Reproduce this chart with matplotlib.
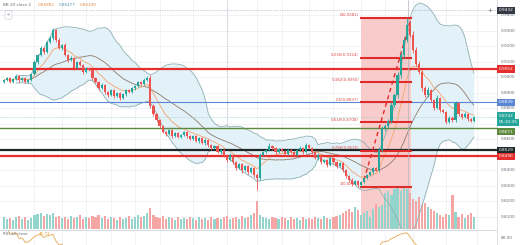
import numpy as np
import pandas as pd
import matplotlib.pyplot as plt
import matplotlib.transforms as mtransforms
from matplotlib.patches import Rectangle

# daily closes
closes = [
    0.8981, 0.8994, 0.8968, 0.8987, 0.9007, 0.8981, 0.8994, 0.8968, 0.8981, 0.9019,
    0.9097, 0.9142, 0.9187, 0.9161, 0.9226, 0.9252, 0.9303, 0.9239, 0.9187, 0.9207,
    0.9142, 0.9110, 0.9123, 0.9058, 0.9097, 0.9078, 0.9032, 0.9058, 0.9045, 0.8994,
    0.8968, 0.8929, 0.8949, 0.8903, 0.8884, 0.8916, 0.8878, 0.8897, 0.8865, 0.8890,
    0.8916, 0.8903, 0.8929, 0.8942, 0.8968, 0.8955, 0.8981, 0.8994, 0.8813, 0.8761,
    0.8723, 0.8684, 0.8645, 0.8632, 0.8658, 0.8620, 0.8639, 0.8613, 0.8626, 0.8645,
    0.8620, 0.8600, 0.8620, 0.8587, 0.8607, 0.8574, 0.8594, 0.8562, 0.8542, 0.8555,
    0.8516, 0.8529, 0.8490, 0.8465, 0.8497, 0.8452, 0.8413, 0.8439, 0.8400, 0.8426,
    0.8387, 0.8413, 0.8368, 0.8349, 0.8497, 0.8516, 0.8529, 0.8555, 0.8542, 0.8516,
    0.8536, 0.8523, 0.8503, 0.8529, 0.8516, 0.8497, 0.8529, 0.8542, 0.8516, 0.8562,
    0.8542, 0.8516, 0.8478, 0.8497, 0.8452, 0.8465, 0.8433, 0.8478, 0.8452, 0.8426,
    0.8445, 0.8400, 0.8362, 0.8336, 0.8310, 0.8329, 0.8304, 0.8323, 0.8349, 0.8368,
    0.8387, 0.8413, 0.8400, 0.8529, 0.8671, 0.8684, 0.8716, 0.8820, 0.8884, 0.9013,
    0.9142, 0.9239, 0.9335, 0.9271, 0.9174, 0.9084, 0.9032, 0.8929, 0.8884, 0.8916,
    0.8852, 0.8800, 0.8865, 0.8787, 0.8774, 0.8710, 0.8736, 0.8723, 0.8832, 0.8761,
    0.8742, 0.8761, 0.8729, 0.8716, 0.8742,
]
first_open = 0.8968

# wick lengths above / below the body, in pips
hi_wick = [
    6, 8, 5, 7, 9, 4, 6, 8, 5, 10, 12, 8, 15, 10, 9, 14, 13, 10, 12, 8,
    10, 7, 12, 9, 8, 11, 6, 9, 10, 7, 8, 6, 12, 7, 9, 10, 6, 8, 7, 9,
    8, 6, 10, 7, 9, 6, 12, 14, 20, 10, 9, 8, 7, 10, 6, 9, 7, 8, 6, 9,
    7, 8, 6, 9, 7, 8, 10, 6, 7, 9, 8, 6, 9, 7, 10, 8, 6, 9, 7, 8,
    6, 9, 7, 12, 15, 10, 8, 20, 9, 7, 8, 6, 9, 10, 7, 8, 9, 12, 6, 14,
    8, 7, 9, 10, 6, 8, 7, 12, 9, 6, 8, 7, 9, 6, 10, 8, 7, 9, 6, 8,
    10, 8, 9, 20, 15, 12, 14, 18, 16, 20, 22, 18, 46, 30, 25, 20, 18, 15, 12, 20,
    10, 9, 18, 8, 10, 9, 12, 10, 15, 9, 8, 12, 7, 9, 10,
]
lo_wick = [
    7, 5, 9, 6, 8, 10, 5, 7, 9, 6, 8, 10, 7, 12, 9, 8, 10, 14, 9, 11,
    9, 12, 8, 10, 7, 9, 11, 8, 6, 10, 9, 12, 7, 10, 15, 8, 12, 7, 10, 8,
    9, 7, 8, 10, 6, 9, 7, 8, 12, 15, 10, 12, 9, 14, 8, 10, 7, 9, 8, 7,
    10, 8, 9, 7, 11, 8, 9, 10, 12, 7, 9, 10, 8, 12, 9, 14, 10, 8, 16, 9,
    12, 8, 14, 78, 10, 8, 9, 7, 10, 12, 8, 9, 10, 7, 9, 11, 8, 7, 10, 9,
    8, 12, 9, 10, 12, 8, 14, 9, 10, 12, 9, 14, 12, 10, 15, 9, 12, 10, 8, 9,
    8, 10, 9, 12, 14, 20, 10, 15, 12, 18, 16, 20, 12, 15, 18, 14, 12, 16, 14, 10,
    12, 10, 9, 12, 8, 14, 9, 12, 10, 9, 10, 8, 12, 9, 8,
]

volume = [
    12, 10, 11, 9, 12, 13, 10, 12, 9, 11, 14, 15, 16, 13, 15, 14, 16, 12, 13, 11,
    12, 10, 13, 11, 12, 14, 10, 12, 11, 13, 12, 14, 11, 13, 10, 12, 11, 9, 12, 10,
    11, 13, 10, 12, 14, 12, 13, 16, 21, 14, 12, 11, 13, 10, 12, 11, 9, 12, 10, 11,
    10, 12, 11, 9, 12, 10, 11, 9, 12, 10, 11, 10, 12, 13, 10, 11, 12, 10, 13, 11,
    12, 14, 16, 28, 14, 12, 11, 10, 12, 11, 10, 12, 11, 9, 12, 10, 11, 9, 12, 10,
    11, 10, 12, 11, 10, 13, 11, 10, 12, 13, 14, 16, 18, 20, 17, 22, 19, 14, 16, 18,
    12, 20, 25, 22, 24, 36, 38, 34, 40, 42, 38, 41, 40, 36, 30, 28, 32, 24, 26, 22,
    20, 18, 16, 14, 12, 15, 14, 34, 17, 12, 15, 11, 14, 16, 12,
]

# horizontal levels drawn on the chart
level_prices = [0.9052, 0.8839, 0.8671, 0.8529, 0.8490]
level_colors = ['#e52d2d', '#5b86d6', '#5b8a3c', '#1e2a2a', '#e52d2d']
level_widths = [1.6, 0.8, 1.0, 1.6, 1.6]
level_labels = ['0.9052', '0.8839', '0.8671', '0.8529', '0.8490']

# fibonacci retracement
fib_high, fib_low = 0.9381, 0.8292
fib_ratios = [0, 0.236, 0.382, 0.5, 0.618, 0.786, 1]
fib_start, fib_end = 117.0, 133.4

price_ticks = [0.94, 0.93, 0.92, 0.91, 0.90, 0.89, 0.88, 0.86, 0.84, 0.83, 0.82, 0.81]
grid_x = [10, 19, 27, 35, 43, 51, 62, 73, 83, 91, 100, 108, 117, 125, 134, 145, 155]

crosshair_price = 0.9432
crosshair_x = 132.5

UP, DOWN = '#26a69a', '#ef5350'
TXT = '#6a6d78'

c = np.array(closes)
o = np.concatenate([[first_open], c[:-1]])
h = np.maximum(o, c) + np.array(hi_wick) * 1e-4
l = np.minimum(o, c) - np.array(lo_wick) * 1e-4
x = np.arange(len(c))
up = c >= o

s = pd.Series(c)
mid = s.rolling(20, min_periods=5).mean()
sd = s.rolling(20, min_periods=5).std(ddof=0)
bb_up, bb_lo = mid + 2 * sd, mid - 2 * sd
ema = s.ewm(span=9, adjust=False).mean()

d = s.diff()
gain = d.clip(lower=0).ewm(alpha=1 / 14, adjust=False).mean()
loss = (-d.clip(upper=0)).ewm(alpha=1 / 14, adjust=False).mean()
rsi = 100 - 100 / (1 + gain / loss)

plt.rcParams['font.family'] = ['DejaVu Sans']
fig = plt.figure(figsize=(5.2, 2.45), dpi=100)
ax = fig.add_axes([0, 16 / 245, 497 / 520, 229 / 245])
rax = fig.add_axes([0, 0, 497 / 520, 15.5 / 245])

ylo, yhi = 0.8020, 0.9497
xlo, xhi = -1.3, 161.6
ax.set_xlim(xlo, xhi)
ax.set_ylim(ylo, yhi)

for gx in grid_x:
    ax.axvline(gx, color='#eef0f4', lw=0.6, zorder=0)
for p in np.arange(0.81, 0.945, 0.01):
    ax.axhline(p, color='#eef0f4', lw=0.6, zorder=0)
ax.axvline(73, color='#b8bcc6', lw=0.6, ls=(0, (1.5, 1.5)), zorder=1)

# bollinger bands
ax.fill_between(x, bb_lo, bb_up, color='#e3f1f8', lw=0, zorder=1)

# fib box
ax.add_patch(Rectangle((fib_start, ylo), fib_end - fib_start, fib_high - ylo,
                       fc='#f9cccc', ec='none', zorder=1.5))

# volume overlay
vol_h = np.array(volume) / 229 * (yhi - ylo)
ax.bar(x, vol_h, bottom=ylo, width=0.7,
       color=np.where(up, '#93d4cd', '#f5a5a3'), zorder=2)

ax.plot(x, bb_up, color='#8fb0b2', lw=0.6, zorder=3)
ax.plot(x, bb_lo, color='#8fb0b2', lw=0.6, zorder=3)
ax.plot(x, mid, color='#8d7b6c', lw=0.6, zorder=3)
ax.plot(x, ema, color='#f3a56c', lw=0.6, zorder=3)

trans = mtransforms.blended_transform_factory(ax.transAxes, ax.transData)

for p, col, lw in zip(level_prices, level_colors, level_widths):
    ax.axhline(p, color=col, lw=lw, zorder=4)

last = closes[-1]
ax.axhline(last, color='#9ccfd0', lw=0.5, ls=(0, (1, 1)), zorder=4)
ax.axhline(crosshair_price, color='#9aa0ac', lw=0.5, ls=(0, (1, 1.5)), zorder=4)
ax.axvline(crosshair_x, color='#b0b4bc', lw=0.5, zorder=4)

for r in fib_ratios:
    p = fib_high - r * (fib_high - fib_low)
    ax.plot([fib_start, fib_end], [p, p], color='#e02b2b', lw=1.5, zorder=4)
    ax.text(fib_start - 0.6, p + 0.0004, f'{r}({p:.4f})', fontsize=2.8,
            color='#e04848', ha='right', va='bottom', zorder=6)

ax.plot([118, 133.5], [0.8336, 0.9381], color='#e02b2b', lw=1.0,
        ls=(0, (3, 2.5)), zorder=5)

# candles
cols = np.where(up, UP, DOWN)
ax.vlines(x, l, h, colors=cols, lw=0.6, zorder=6)
ax.bar(x, np.maximum(np.abs(c - o), 0.00025), bottom=np.minimum(o, c),
       width=0.7, color=cols, zorder=7)

for sp in ['top', 'left', 'bottom']:
    ax.spines[sp].set_visible(False)
ax.spines['right'].set_color('#d8dbe2')
ax.spines['right'].set_linewidth(0.6)
ax.set_xticks([])
ax.set_yticks([])

# price scale on the right
for p in price_ticks:
    ax.text(1.008, p, f'{p:.4f}', transform=trans, fontsize=3.1, color=TXT,
            ha='left', va='center', clip_on=False)


def tag(price, text, fc, y_off=0.0):
    ax.text(1.003, price + y_off, text, transform=trans, fontsize=3.1,
            color='white', ha='left', va='center', clip_on=False, zorder=10,
            bbox=dict(boxstyle='square,pad=0.35', fc=fc, ec='none'))


tag(crosshair_price, f'{crosshair_price:.4f}', '#363a45')
for p, col, lab in zip(level_prices, level_colors, level_labels):
    if lab == '0.8671':
        tag(p, lab, col, y_off=-0.0025)
    else:
        tag(p, lab, col)
tag(last + 0.0010, f'{last:.4f}', '#26a69a')
tag(last - 0.0035, '05:10:35', '#26a69a')
ax.text(0.985, crosshair_price, '+', transform=trans, fontsize=4, color='#363a45',
        ha='center', va='center', clip_on=False)

# legend header
ax.text(0.006, 0.978, 'BB 20 close 2', transform=ax.transAxes, fontsize=3.0,
        color=TXT, ha='left', va='center')
ax.text(0.075, 0.978, '0.85882', transform=ax.transAxes, fontsize=3.0,
        color='#e0894a', ha='left', va='center')
ax.text(0.118, 0.978, '0.86477', transform=ax.transAxes, fontsize=3.0,
        color='#4f8fb0', ha='left', va='center')
ax.text(0.161, 0.978, '0.85249', transform=ax.transAxes, fontsize=3.0,
        color='#e0894a', ha='left', va='center')
ax.text(0.017, 0.935, '«', transform=ax.transAxes, fontsize=3.5, color=TXT,
        ha='center', va='center',
        bbox=dict(boxstyle='round,pad=0.4', fc='white', ec='#cfd3db', lw=0.5))

# RSI pane
rax.set_xlim(xlo, xhi)
rax.set_ylim(66, 96)
rax.plot(x, rsi, color='#e8a650', lw=0.6)
rax.set_xticks([])
rax.set_yticks([])
for sp in ['left', 'bottom']:
    rax.spines[sp].set_visible(False)
rax.spines['top'].set_color('#d0d3da')
rax.spines['top'].set_linewidth(0.6)
rax.spines['right'].set_color('#d8dbe2')
rax.spines['right'].set_linewidth(0.6)
for gx in grid_x:
    rax.axvline(gx, color='#eef0f4', lw=0.6, zorder=0)
rax.text(0.006, 0.72, 'RSI 14 close', transform=rax.transAxes, fontsize=3.0,
         color=TXT, ha='left', va='center')
rax.text(0.078, 0.72, '46.73', transform=rax.transAxes, fontsize=3.0,
         color='#e0a030', ha='left', va='center')
rtrans = mtransforms.blended_transform_factory(rax.transAxes, rax.transData)
rax.text(1.008, 80, '80.00', transform=rtrans, fontsize=3.1, color=TXT,
         ha='left', va='center', clip_on=False)

fig.savefig('out.png', dpi=100)
